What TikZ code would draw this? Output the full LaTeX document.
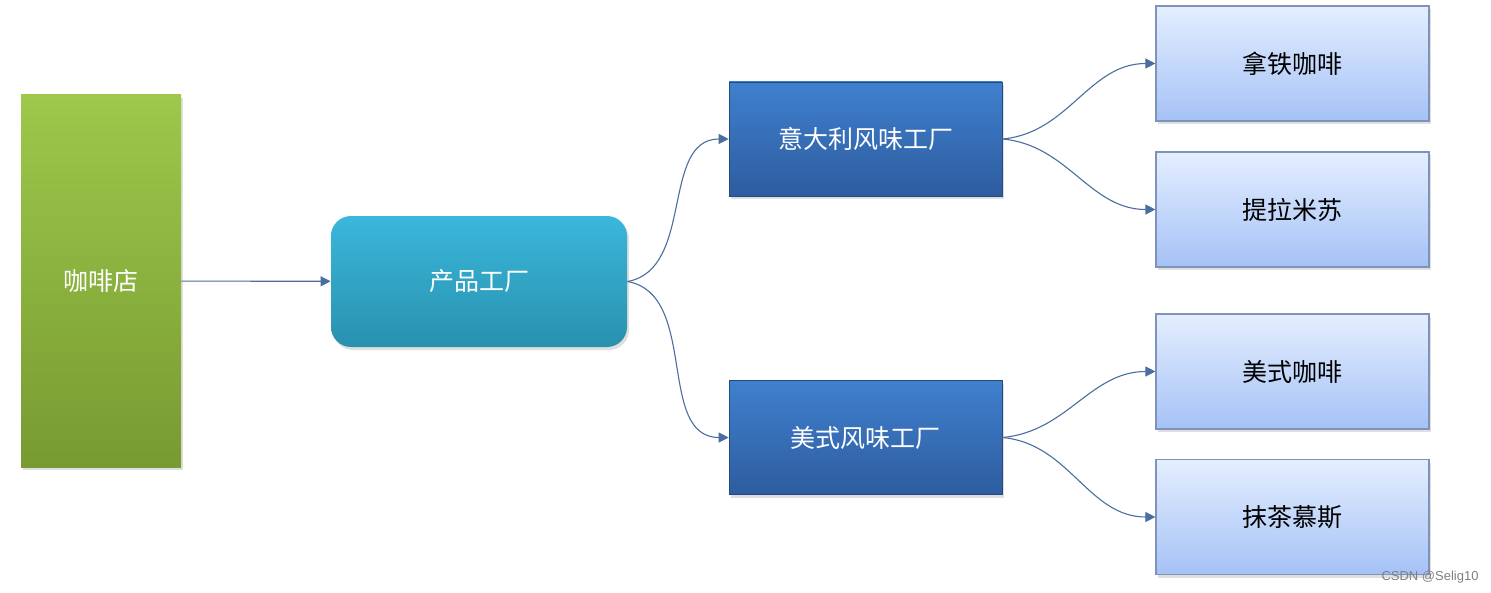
\documentclass[tikz,border=0pt]{standalone}
\usepackage{fontspec}
\setmainfont{Noto Sans CJK SC}
\newfontfamily\markfont{Liberation Sans}
\usetikzlibrary{arrows.meta, positioning, shadows}
\definecolor{shoptop}{HTML}{9DC84B}
\definecolor{shopbot}{HTML}{789A31}
\definecolor{facttop}{HTML}{3AB7DB}
\definecolor{factbot}{HTML}{2891AE}
\definecolor{flavtop}{HTML}{3F80CE}
\definecolor{flavbot}{HTML}{2E5C9F}
\definecolor{itemtop}{HTML}{E4EEFF}
\definecolor{itembot}{HTML}{A5C2F6}
\definecolor{itemline}{HTML}{7F93B8}
\definecolor{linkcol}{HTML}{4A6E9F}
\tikzset{
  softshadow/.style={drop shadow={opacity=0.25, shadow xshift=1pt, shadow yshift=-1.5pt}},
}

\begin{document}
\begin{tikzpicture}[
    x=0.5pt, y=-0.5pt,
    every node/.style={font=\fontsize{12.5}{15}\selectfont, inner sep=0pt},
    arr/.style={-{Triangle[length=5pt, width=5pt]}, line width=0.55pt, linkcol},
    shopbox/.style={softshadow, top color=shoptop, bottom color=shopbot, draw=none,
                    text=white, minimum width=80pt, minimum height=186pt},
    factbox/.style={softshadow, top color=facttop, bottom color=factbot, draw=none, rounded corners=10pt,
                    text=white, minimum width=148pt, minimum height=65.5pt},
    flavbox/.style={softshadow, top color=flavtop, bottom color=flavbot, draw=flavbot!80!black, line width=0.3pt,
                    text=white, minimum width=136.5pt, minimum height=57pt},
    itembox/.style={softshadow, top color=itemtop, bottom color=itembot, draw=itemline, line width=0.6pt,
                    text=black, minimum width=136.5pt, minimum height=57.5pt},
  ]
  \useasboundingbox[fill=white] (0, 0) rectangle (1491, 593);

  \node[shopbox] (shop) at (101, 281) {咖啡店};
  \node[factbox] (factory) at (479, 281.5) {产品工厂};

  \node[flavbox] (italy) at (865.5, 139) {意大利风味工厂};
  \node[flavbox] (usa) at (865.5, 437.5) {美式风味工厂};

  \node[itembox] (latte) at (1292.5, 63.5) {拿铁咖啡};
  \node[itembox] (tiramisu) at (1292.5, 209.5) {提拉米苏};
  \node[itembox] (americano) at (1292.5, 371.5) {美式咖啡};
  \node[itembox] (matcha) at (1292.5, 517) {抹茶慕斯};

  \node[text=gray, font=\markfont\fontsize{6.5}{8}\selectfont] (mark) at (1430, 577) {CSDN @Selig10};

  \draw[arr] (shop) -- (factory);

  \draw[arr] (factory.east) to[out=10, in=180] (italy.west);
  \draw[arr] (factory.east) to[out=-10, in=180] (usa.west);

  \draw[arr] (italy.east) to[out=5, in=180] (latte.west);
  \draw[arr] (italy.east) to[out=-5, in=180] (tiramisu.west);
  \draw[arr] (usa.east) to[out=5, in=180] (americano.west);
  \draw[arr] (usa.east) to[out=-5, in=180] (matcha.west);

\end{tikzpicture}
\end{document}
